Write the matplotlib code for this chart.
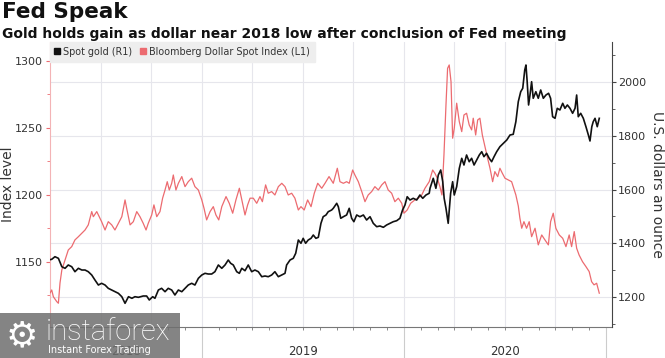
import matplotlib
matplotlib.use("Agg")
import matplotlib.pyplot as plt
from matplotlib.ticker import FixedLocator, NullFormatter
from matplotlib.lines import Line2D
from matplotlib.patches import Rectangle
import numpy as np

# ---- data (x in decimal years) ----
dollar_t = [2018.239, 2018.248, 2018.256, 2018.264, 2018.281, 2018.289, 2018.297, 2018.306, 2018.322, 2018.338,
            2018.355, 2018.371, 2018.388, 2018.405, 2018.421, 2018.437, 2018.454, 2018.462, 2018.479, 2018.487,
            2018.503, 2018.520, 2018.536, 2018.553, 2018.569, 2018.586, 2018.603, 2018.619, 2018.627, 2018.644,
            2018.660, 2018.677, 2018.693, 2018.709,
            2018.723, 2018.734, 2018.751, 2018.762, 2018.776, 2018.792, 2018.805, 2018.817, 2018.828, 2018.838,
            2018.850, 2018.858, 2018.871, 2018.883, 2018.900, 2018.916, 2018.932, 2018.949, 2018.965, 2018.982,
            2018.999, 2019.010, 2019.023, 2019.040, 2019.056, 2019.069, 2019.083, 2019.098, 2019.119, 2019.135,
            2019.152, 2019.168, 2019.185,
            2019.197, 2019.213, 2019.226, 2019.238, 2019.254, 2019.271, 2019.287, 2019.299, 2019.315, 2019.328,
            2019.345, 2019.361, 2019.378, 2019.395, 2019.411, 2019.427, 2019.444, 2019.460, 2019.477, 2019.490,
            2019.506, 2019.523, 2019.540, 2019.556, 2019.573, 2019.593, 2019.609, 2019.629,
            2019.650, 2019.670, 2019.683, 2019.700, 2019.716, 2019.729, 2019.746, 2019.757, 2019.774, 2019.791,
            2019.807, 2019.823, 2019.840, 2019.856, 2019.873, 2019.890, 2019.906, 2019.922, 2019.939, 2019.955,
            2019.972, 2019.989, 2020.000, 2020.016, 2020.033, 2020.054, 2020.071, 2020.088, 2020.104, 2020.125,
            2020.142, 2020.153, 2020.165, 2020.178, 2020.188, 2020.198, 2020.208, 2020.216, 2020.224, 2020.233,
            2020.241, 2020.249, 2020.261, 2020.274, 2020.286, 2020.297, 2020.310, 2020.323, 2020.335, 2020.343,
            2020.355, 2020.365, 2020.376, 2020.388, 2020.401, 2020.414, 2020.426, 2020.439, 2020.450, 2020.464,
            2020.475, 2020.487, 2020.500, 2020.516, 2020.533,
            2020.541, 2020.554, 2020.566, 2020.574, 2020.583, 2020.594, 2020.607, 2020.620, 2020.632, 2020.649,
            2020.665, 2020.682, 2020.698, 2020.715, 2020.726, 2020.739, 2020.752, 2020.769, 2020.786, 2020.802,
            2020.818, 2020.830, 2020.843, 2020.855, 2020.867, 2020.884, 2020.901, 2020.917, 2020.929, 2020.941,
            2020.954, 2020.967]
dollar_v = [1127.9, 1126.9, 1129.1, 1124.1, 1120.4, 1119.2, 1134.3, 1144.0, 1151.5, 1158.9,
            1161.4, 1166.4, 1168.8, 1171.4, 1173.8, 1177.6, 1187.5, 1183.7, 1187.5, 1185.0,
            1180.0, 1173.8, 1180.0, 1177.6, 1173.8, 1178.8, 1183.7, 1196.2, 1190.0, 1177.6,
            1180.0, 1187.5, 1183.7, 1178.8,
            1173.8, 1178.8, 1185.0, 1192.5, 1183.7, 1187.5, 1197.5, 1203.6, 1209.8, 1203.6,
            1208.6, 1214.8, 1203.6, 1208.6, 1213.6, 1206.1, 1209.8, 1212.4, 1206.1, 1203.6,
            1196.2, 1190.0, 1181.3, 1187.5, 1191.2, 1185.0, 1181.3, 1191.2, 1198.7, 1193.7,
            1186.3, 1196.2, 1204.9,
            1196.2, 1185.0, 1192.5, 1197.5, 1197.5, 1193.7, 1198.7, 1194.9, 1207.4, 1201.2,
            1202.4, 1199.9, 1206.1, 1208.6, 1206.1, 1199.9, 1201.2, 1197.5, 1188.7, 1191.2,
            1188.7, 1196.2, 1191.2, 1201.2, 1208.6, 1204.9, 1208.6, 1213.6,
            1208.6, 1219.8, 1209.8, 1208.6, 1209.8, 1208.6, 1218.5, 1214.8, 1209.8, 1202.4,
            1194.9, 1199.9, 1202.4, 1206.1, 1203.6, 1207.4, 1209.8, 1203.6, 1201.2, 1194.9,
            1197.5, 1193.7, 1186.3, 1188.7, 1193.7, 1196.2, 1197.5, 1199.9, 1204.9, 1209.8,
            1218.5, 1216.1, 1212.4, 1206.1, 1199.9, 1229.7, 1267.0, 1294.3, 1296.8, 1284.3,
            1242.2, 1249.6, 1268.3, 1254.5, 1247.1, 1259.5, 1260.8, 1252.1, 1248.4, 1257.1,
            1244.6, 1255.8, 1257.1, 1244.6, 1235.9, 1227.3, 1219.8, 1209.8, 1217.3, 1213.6,
            1219.8, 1216.1, 1212.4, 1211.1, 1209.8,
            1206.1, 1199.9, 1191.7, 1182.6, 1175.1, 1180.0, 1175.1, 1180.0, 1168.8, 1175.1,
            1162.7, 1170.1, 1166.4, 1162.7, 1180.0, 1186.3, 1175.1, 1170.1, 1167.6, 1161.4,
            1170.1, 1161.4, 1172.6, 1160.2, 1155.2, 1150.2, 1146.5, 1142.8, 1135.3, 1132.9,
            1134.1, 1126.7]

gold_t = [2018.239, 2018.256, 2018.272, 2018.289, 2018.306, 2018.322, 2018.338, 2018.355, 2018.371, 2018.388,
          2018.405, 2018.421, 2018.437, 2018.454, 2018.470, 2018.487, 2018.503, 2018.520, 2018.536, 2018.553,
          2018.569, 2018.586, 2018.603, 2018.619, 2018.636, 2018.653, 2018.668, 2018.685, 2018.709,
          2018.726, 2018.739, 2018.756, 2018.767, 2018.784, 2018.800, 2018.817, 2018.833, 2018.850, 2018.866,
          2018.883, 2018.900, 2018.916, 2018.932, 2018.949, 2018.965, 2018.982, 2018.999, 2019.015, 2019.031,
          2019.048, 2019.064, 2019.081, 2019.098, 2019.114, 2019.130, 2019.142, 2019.155, 2019.172, 2019.185,
          2019.197, 2019.213, 2019.229, 2019.246, 2019.262, 2019.279, 2019.296, 2019.312, 2019.328, 2019.345,
          2019.361, 2019.378, 2019.395, 2019.411, 2019.419, 2019.436, 2019.452, 2019.464, 2019.477, 2019.490,
          2019.501, 2019.513, 2019.526, 2019.540, 2019.551, 2019.564, 2019.576, 2019.589, 2019.600, 2019.614,
          2019.625,
          2019.642, 2019.650, 2019.667, 2019.675, 2019.687, 2019.700, 2019.716, 2019.729, 2019.741, 2019.752,
          2019.766, 2019.782, 2019.799, 2019.815, 2019.832, 2019.848, 2019.865, 2019.881, 2019.898, 2019.914,
          2019.931, 2019.947, 2019.964, 2019.980, 2019.993, 2020.005, 2020.016, 2020.030, 2020.046, 2020.063,
          2020.079, 2020.093, 2020.109, 2020.125,
          2020.129, 2020.145, 2020.158, 2020.170, 2020.182, 2020.192, 2020.199, 2020.208, 2020.219, 2020.231,
          2020.241, 2020.249, 2020.261, 2020.274, 2020.286, 2020.297, 2020.310, 2020.323, 2020.335, 2020.347,
          2020.360, 2020.373, 2020.385, 2020.396, 2020.409, 2020.422, 2020.434, 2020.446, 2020.459, 2020.475,
          2020.492, 2020.509, 2020.525, 2020.541,
          2020.554, 2020.566, 2020.578, 2020.588, 2020.598, 2020.604, 2020.610, 2020.617, 2020.624, 2020.632,
          2020.640, 2020.653, 2020.665, 2020.677, 2020.690, 2020.703, 2020.716, 2020.726, 2020.736, 2020.748,
          2020.759, 2020.772, 2020.786, 2020.797, 2020.809, 2020.822, 2020.835, 2020.847, 2020.855, 2020.863,
          2020.875, 2020.888, 2020.901, 2020.913, 2020.921, 2020.930, 2020.937, 2020.946, 2020.957, 2020.967]
gold_v = [1337.9, 1340.5, 1350.2, 1344.2, 1312.9, 1307.0, 1319.3, 1312.9, 1294.3, 1307.0,
          1300.6, 1300.6, 1294.3, 1282.0, 1263.4, 1244.7, 1251.1, 1244.7, 1232.4, 1226.1,
          1219.8, 1213.8, 1201.2, 1176.6, 1201.2, 1195.2, 1201.2, 1198.9, 1203.8,
          1203.8, 1188.9, 1201.2, 1195.2, 1226.1, 1232.4, 1219.8, 1232.4, 1226.1, 1207.5,
          1226.1, 1219.8, 1232.4, 1244.7, 1251.1, 1244.7, 1269.7, 1282.0, 1288.3, 1285.7,
          1285.7, 1294.3, 1319.3, 1307.0, 1319.3, 1337.9, 1325.6, 1319.3, 1294.3, 1288.3,
          1307.0, 1298.0, 1319.3, 1294.3, 1300.6, 1294.3, 1275.7, 1278.3, 1275.7, 1282.0,
          1294.3, 1275.7, 1282.0, 1288.3, 1319.3, 1337.9, 1344.2, 1362.9, 1412.4, 1400.1,
          1418.7, 1400.1, 1412.4, 1418.7, 1431.0, 1418.7, 1422.5, 1474.6, 1499.2, 1505.6,
          1517.8,
          1524.2, 1530.5, 1549.1, 1536.5, 1493.3, 1499.2, 1505.6, 1530.5, 1493.3, 1480.6,
          1505.6, 1499.2, 1505.6, 1486.9, 1499.2, 1474.6, 1462.0, 1464.6, 1459.7, 1468.3,
          1474.6, 1480.6, 1484.3, 1493.3, 1524.2, 1542.8, 1573.7, 1561.4, 1567.8, 1561.4,
          1580.1, 1567.8, 1580.1, 1586.4,
          1605.0, 1642.3, 1605.0, 1654.6, 1673.2, 1629.6, 1567.8, 1530.5, 1474.6, 1586.4,
          1629.6, 1580.1, 1611.0, 1679.5, 1716.8, 1691.8, 1729.1, 1704.1, 1716.8, 1691.8,
          1710.5, 1729.1, 1741.4, 1722.8, 1735.4, 1716.8, 1704.1, 1722.8, 1741.4, 1760.0,
          1772.7, 1785.0, 1803.6, 1806.2,
          1853.2, 1927.7, 1964.9, 1977.6, 2045.8, 2064.4, 2002.2, 1915.4, 1952.6, 2002.2,
          1940.4, 1964.9, 1940.4, 1971.3, 1940.4, 1952.6, 1959.0, 1940.4, 1871.8, 1865.8,
          1903.1, 1896.8, 1921.7, 1903.1, 1915.4, 1903.1, 1884.5, 1903.1, 1952.6, 1871.8,
          1884.5, 1865.8, 1834.5, 1803.6, 1781.3, 1834.5, 1853.2, 1865.8, 1834.5, 1865.8]

left_ticks = [1150, 1200, 1250, 1300]
right_ticks = [1200, 1400, 1600, 1800, 2000]
year_labels = ["2018", "2019", "2020"]

RED = "#ec6b70"
BLACK = "#111111"
TXT = "#333333"

plt.rcParams['font.family'] = ['DejaVu Sans']

fig = plt.figure(figsize=(6.65, 3.58), dpi=100)
fig.patch.set_facecolor("white")

L, R, B, T = 49.5 / 665, 612 / 665, 1 - 327 / 358, 1 - 42 / 358
ax = fig.add_axes([L, B, R - L, T - B])
ax2 = ax.twinx()

xlo, xhi = 2018.245, 2021.03
lyl, lyh = 1101.5, 1313.9
ryl, ryh = 1088.3, 2150.1
ax.set_xlim(xlo, xhi)
ax.set_ylim(lyl, lyh)
ax2.set_ylim(ryl, ryh)

# grid (horizontal at right-axis ticks, vertical quarterly)
for g in right_ticks:
    v = lyl + (g - ryl) / (ryh - ryl) * (lyh - lyl)
    ax.axhline(v, color="#e6e6ec", lw=0.8, zorder=0)
quarters = [2018.5, 2018.75, 2019.0, 2019.25, 2019.5, 2019.75, 2020.0, 2020.25, 2020.5, 2020.75]
for q in quarters:
    ax.axvline(q, color="#e6e6ec", lw=0.8, zorder=0)

ax.plot(dollar_t, dollar_v, color=RED, lw=0.9, zorder=3)
ax2.plot(gold_t, gold_v, color=BLACK, lw=1.2, zorder=3)

# spines
ax.spines["top"].set_visible(False)
ax2.spines["top"].set_visible(False)
ax2.spines["left"].set_visible(False)
ax2.spines["bottom"].set_visible(False)
ax.spines["right"].set_visible(False)
ax.spines["left"].set_color("#f3b3b5")
ax.spines["left"].set_linewidth(0.8)
ax2.spines["right"].set_color("#444444")
ax2.spines["right"].set_linewidth(0.8)
ax.spines["bottom"].set_color("#777777")
ax.spines["bottom"].set_linewidth(0.8)

# left ticks
ax.yaxis.set_major_locator(FixedLocator(left_ticks))
ax.yaxis.set_minor_locator(FixedLocator(np.arange(1125, 1313, 25)))
ax.tick_params(axis="y", which="major", colors=RED, labelcolor=TXT, length=3, width=0.8,
               labelsize=8, pad=1.5)
ax.tick_params(axis="y", which="minor", colors=RED, length=2, width=0.6)
ax.set_ylabel("Index level", fontsize=10, color=TXT)
ax.yaxis.set_label_coords(-0.062, 0.5)

# right ticks
ax2.yaxis.set_major_locator(FixedLocator(right_ticks))
ax2.yaxis.set_minor_locator(FixedLocator(np.arange(1100, 2150, 100)))
ax2.tick_params(axis="y", which="major", colors="#444444", labelcolor=TXT, length=3,
                width=0.8, labelsize=8, pad=1.5)
ax2.tick_params(axis="y", which="minor", colors="#444444", length=2, width=0.6)
ax2.set_ylabel("U.S. dollars an ounce", fontsize=10, color=TXT, rotation=270, labelpad=13)

# x ticks: long year separators + monthly minor ticks
ax.xaxis.set_major_locator(FixedLocator([2019.0, 2020.0, 2021.0]))
ax.xaxis.set_major_formatter(NullFormatter())
months = [2018 + m / 12 for m in range(4, 36)]
ax.xaxis.set_minor_locator(FixedLocator(months))
ax.tick_params(axis="x", which="major", length=28, width=0.8, colors="#cccccc")
ax.tick_params(axis="x", which="minor", length=2.5, width=0.6, colors="#777777")
for lab, xc in zip(year_labels, [(xlo + 2019) / 2, 2019.5, 2020.5]):
    ax.text(xc, -0.085, lab, transform=ax.get_xaxis_transform(), ha="center", va="center",
            fontsize=8.5, color=TXT)

# legend
handles = [Line2D([], [], marker="s", ls="none", color=BLACK, markersize=5),
           Line2D([], [], marker="s", ls="none", color=RED, markersize=5)]
leg = ax2.legend(handles, ["Spot gold (R1)", "Bloomberg Dollar Spot Index (L1)"],
                 loc="upper left", bbox_to_anchor=(0.0, 1.0), ncol=2, frameon=True,
                 fancybox=False, borderaxespad=0.0, fontsize=6.9, handlelength=0.6,
                 handletextpad=0.35, columnspacing=0.8, borderpad=0.5)
leg.get_frame().set_facecolor("#eeeeee")
leg.get_frame().set_edgecolor("#eeeeee")
leg.get_frame().set_alpha(1)
for t in leg.get_texts():
    t.set_color(TXT)

# titles
fig.text(0.003, 0.995, "Fed Speak", fontsize=15.5, fontweight="bold", va="top", ha="left",
         color="#111111")
fig.text(0.003, 0.925, "Gold holds gain as dollar near 2018 low after conclusion of Fed meeting",
         fontsize=10, fontweight="bold", va="top", ha="left", color="#111111")

# watermark
fig.patches.append(Rectangle((0, 0), 180 / 665, 45 / 358, transform=fig.transFigure,
                             facecolor="#6f6f6f", alpha=0.85, edgecolor="none", zorder=10))
fig.text(22 / 665, 22 / 358, "\u2699", fontsize=26, color="white", ha="center", va="center", zorder=11)
fig.text(46 / 665, 18 / 358, "instaforex", fontsize=21, color="white", ha="left", va="baseline",
         family=["Roboto", "DejaVu Sans"], fontweight="light", zorder=11)
fig.text(48 / 665, 5 / 358, "Instant Forex Trading", fontsize=7, color="white", ha="left",
         va="baseline", zorder=11)

fig.savefig("out.png", dpi=100)
